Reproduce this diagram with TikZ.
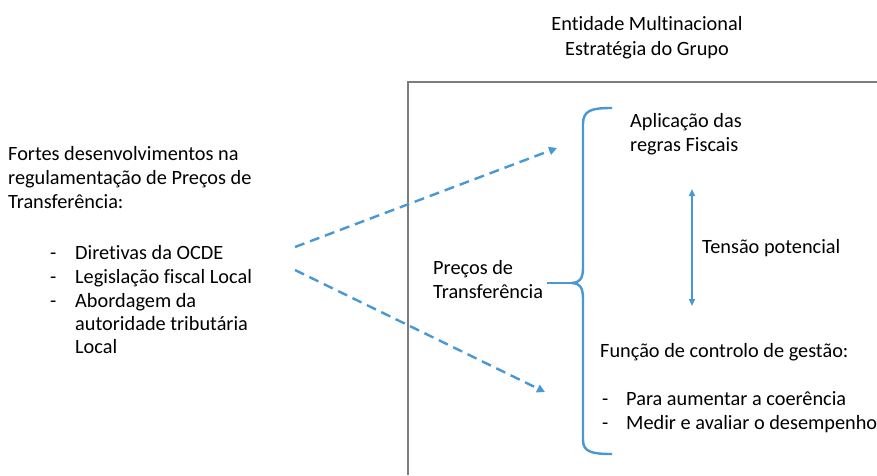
\documentclass[tikz,border=0pt]{standalone}
\usepackage{fontspec}
\setmainfont[Ligatures=NoCommon]{Carlito}
\usetikzlibrary{arrows.meta, positioning}

\definecolor{lineblue}{RGB}{72,152,212}
\definecolor{boxgray}{RGB}{125,125,125}

\tikzset{
  txt/.style={anchor=base west, inner sep=0pt, font=\fontsize{20.3}{24}\selectfont},
  dasharrow/.style={lineblue, line width=2.4pt, dash pattern=on 10pt off 6pt,
    -{Triangle[length=8pt, width=8pt]}},
  bracepath/.style={lineblue, line width=2.4pt},
}

\begin{document}
\begin{tikzpicture}[x=1pt, y=-1pt]
  \useasboundingbox (0,0) rectangle (877,475);

  %% Title
  \node[txt, anchor=base] (title1) at (647,30) {Entidade Multinacional};
  \node[txt, anchor=base] (title2) at (647,55) {Estratégia do Grupo};

  % group box (open to the right and bottom)
  \draw[boxgray, line width=1.2pt] (877,82) -- (408,82) -- (408,475);

  %% Left block
  \node[txt] (fortes) at (8,160) {Fortes desenvolvimentos na};
  \node[txt] (regul) at (8,184) {regulamentação de Preços de};
  \node[txt] (transf) at (8,208) {Transferência:};

  \node[txt] (d1) at (50,259) {-};
  \node[txt] (ocde) at (75,259) {Diretivas da OCDE};
  \node[txt] (d2) at (50,283) {-};
  \node[txt] (legis) at (75,283) {Legislação fiscal Local};
  \node[txt] (d3) at (50,307) {-};
  \node[txt] (abord) at (75,307) {Abordagem da};
  \node[txt] (autor) at (75,330) {autoridade tributária};
  \node[txt] (local) at (75,353) {Local};

  % dashed arrows
  \coordinate (upstart) at (295,247);
  \coordinate (upend) at (557,148);
  \coordinate (downstart) at (295,270);
  \coordinate (downend) at (545,392);
  \draw[dasharrow] (upstart) -- (upend);
  \draw[dasharrow] (downstart) -- (downend);

  %% Inside the box
  \node[txt] (precos) at (433,274) {Preços de};
  \node[txt] (precos2) at (433,298) {Transferência};

  % brace
  \coordinate (bracetip) at (572,283);
  \draw[bracepath] (612,108) .. controls (592,108) and (583,110) .. (583,124)
    -- (583,268) .. controls (583,279) and (579,283) .. (bracetip);
  \draw[bracepath] (612,454) .. controls (592,454) and (583,452) .. (583,440)
    -- (583,298) .. controls (583,287) and (579,283) .. (bracetip);
  \draw[bracepath] (precos2.east |- bracetip) ++(4,0) coordinate (tipstart) -- (bracetip);

  % upper text
  \node[txt] (aplic) at (630,127) {Aplicação das};
  \node[txt] (regras) at (630,151) {regras Fiscais};

  % tension arrow
  \coordinate (tentop) at (692,189);
  \coordinate (tenbot) at (692,306);
  \draw[lineblue, line width=2pt, {Triangle[length=7pt, width=6pt]}-{Triangle[length=7pt, width=6pt]}] (tentop) -- (tenbot);
  \node[txt] (tensao) at (702,253) {Tensão potencial};

  % lower text
  \node[txt] (funcao) at (600,357) {Função de controlo de gestão:};
  \node[txt] (d4) at (602,405) {-};
  \node[txt] (coer) at (626,405) {Para aumentar a coerência};
  \node[txt] (d5) at (602,429) {-};
  \node[txt] (medir) at (626,429) {Medir e avaliar o desempenho};

\end{tikzpicture}
\end{document}
